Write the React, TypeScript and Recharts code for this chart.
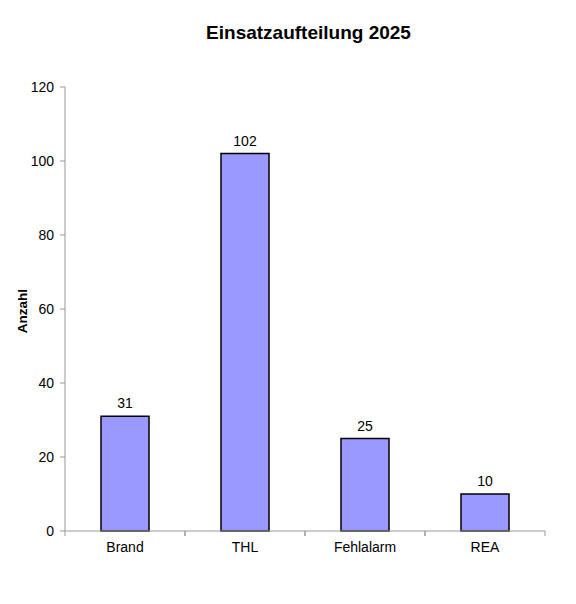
import { Bar, BarChart, LabelList, XAxis, YAxis } from "recharts";

const categories = ["Brand", "THL", "Fehlalarm", "REA"];
const counts = [31, 102, 25, 10];
const yTicks = [0, 20, 40, 60, 80, 100, 120];

const data = categories.map((name, i) => ({ name, Anzahl: counts[i] }));

const FONT = "'Liberation Sans', Arial, sans-serif";
const AXIS = "#999999";

// Excel-style: tick marks sit between categories, label in the middle
function CategoryTick(props: any) {
  const { x, y, payload } = props;
  const half = 60;
  return (
    <g>
      <line x1={x - half} y1={y - 8} x2={x - half} y2={y - 3} stroke={AXIS} />
      <line x1={x + half} y1={y - 8} x2={x + half} y2={y - 3} stroke={AXIS} />
      <text
        x={x}
        y={y + 13}
        textAnchor="middle"
        fontSize={14}
        fontFamily={FONT}
        fill="#000"
      >
        {payload.value}
      </text>
    </g>
  );
}

export default function App() {
  return (
    <div style={{ position: "absolute", left: 0, top: 0, background: "#fff" }}>
      <BarChart
        width={576}
        height={604}
        data={data}
        margin={{ top: 87, right: 31, left: 20, bottom: 43 }}
        barCategoryGap="30%"
      >
        <text
          x={308.5}
          y={39}
          textAnchor="middle"
          fontSize={19}
          fontWeight="bold"
          fontFamily={FONT}
          fill="#000"
        >
          Einsatzaufteilung 2025
        </text>
        <text
          x={27}
          y={311}
          transform="rotate(-90 27 311)"
          textAnchor="middle"
          fontSize={13.5}
          fontWeight="bold"
          fontFamily={FONT}
          fill="#000"
        >
          Anzahl
        </text>
        <XAxis
          dataKey="name"
          stroke={AXIS}
          tickLine={false}
          height={30}
          tick={<CategoryTick />}
          interval={0}
        />
        <YAxis
          domain={[0, 120]}
          ticks={yTicks}
          width={45}
          stroke={AXIS}
          tickSize={5}
          tickMargin={6}
          tick={{ fontSize: 14, fontFamily: FONT, fill: "#000" }}
          interval={0}
        />
        <Bar
          dataKey="Anzahl"
          fill="#9999FF"
          stroke="#000"
          strokeWidth={1.5}
          isAnimationActive={false}
        >
          <LabelList
            dataKey="Anzahl"
            position="top"
            offset={8}
            fontSize={14}
            fontFamily={FONT}
            fill="#000"
          />
        </Bar>
      </BarChart>
    </div>
  );
}
